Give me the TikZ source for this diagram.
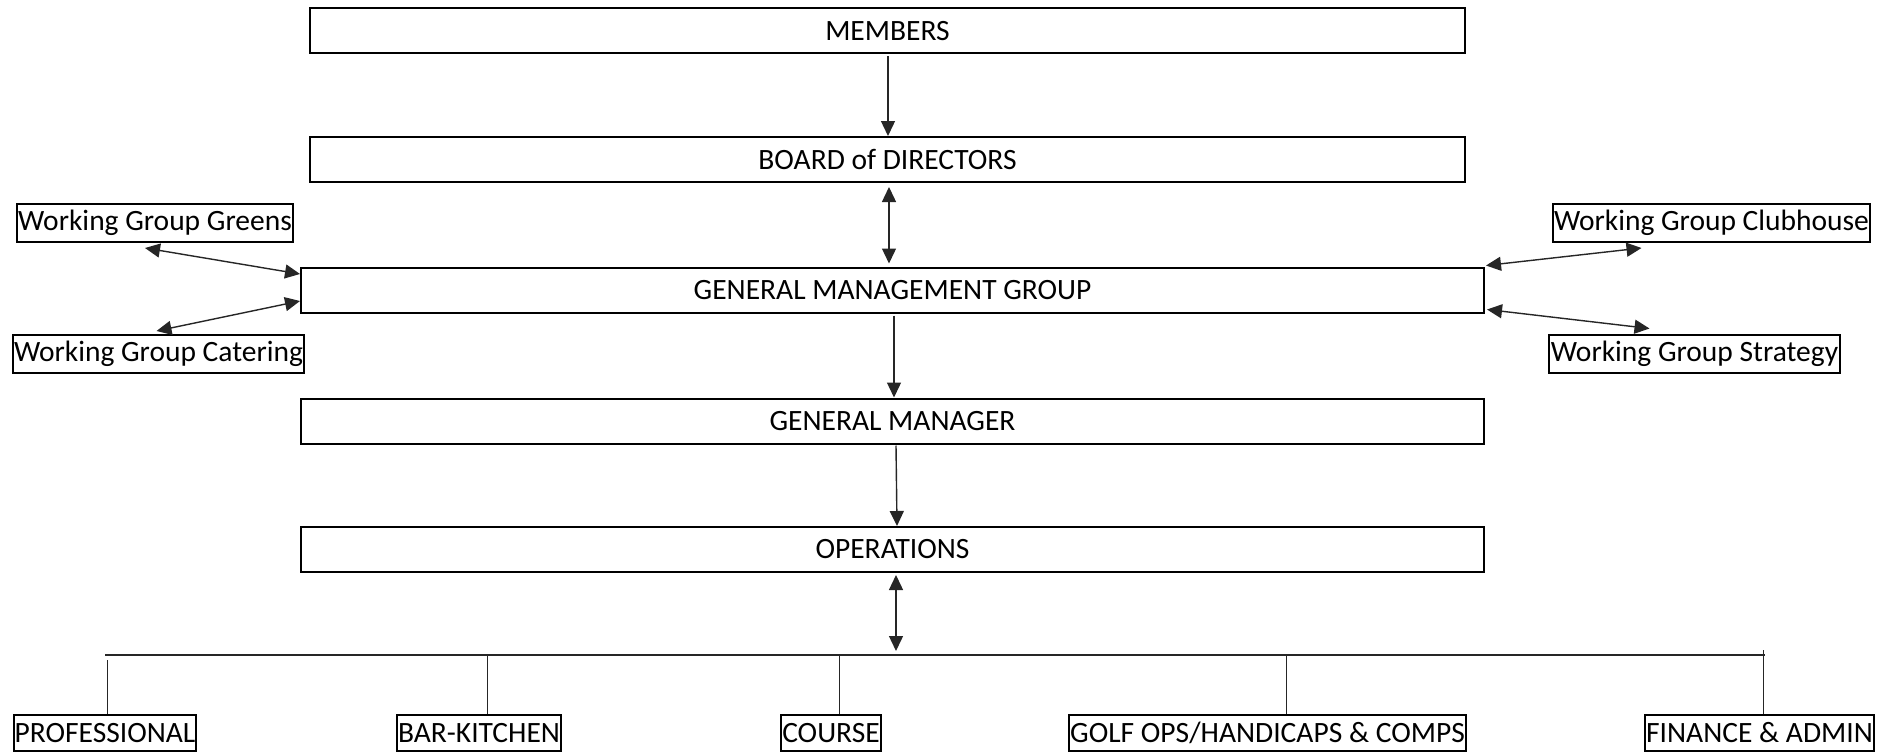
\documentclass[tikz,border=0pt]{standalone}
\usepackage{fontspec}
\setmainfont{Carlito}
\usetikzlibrary{arrows.meta}

\begin{document}
\begin{tikzpicture}
  [ x=1pt, y=-1pt,
    bigbox/.style={rectangle, draw=black, line width=2pt, inner sep=0pt, minimum height=45pt, font=\fontsize{29.5}{33}\selectfont},
    wgbox/.style={rectangle, draw=black, line width=2pt, inner sep=1pt, minimum height=38pt, font=\fontsize{29.5}{33}\selectfont},
    unitbox/.style={rectangle, draw=black, line width=2pt, inner sep=1pt, minimum height=36pt, font=\fontsize{29.5}{33}\selectfont},
    arr/.style={-{Triangle[length=15pt,width=14pt]}, line width=1.4pt, black!85},
    dblarr/.style={{Triangle[length=15pt,width=14pt]}-{Triangle[length=15pt,width=14pt]}, line width=1.4pt, black!85},
    bus/.style={-, line width=1.6pt, black!85},
    drop/.style={-, line width=1pt, black!85}
  ]
  \useasboundingbox (0,0) rectangle (1887,752);

  \node[bigbox, minimum width=1155pt] (members) at (887.5,31) {MEMBERS};
  \node[bigbox, minimum width=1155pt] (board) at (887.5,159.5) {BOARD of DIRECTORS};
  \node[bigbox, minimum width=1183pt] (gmg) at (892.5,290) {GENERAL MANAGEMENT GROUP};
  \node[bigbox, minimum width=1183pt] (gm) at (892.5,421) {GENERAL MANAGER};
  \node[bigbox, minimum width=1183pt] (ops) at (892.5,549.5) {OPERATIONS};

  \node[wgbox, minimum width=276pt] (greens) at (155,223) {Working Group Greens};
  \node[wgbox, minimum width=291pt] (catering) at (158.5,354) {Working Group Catering};
  \node[wgbox, minimum width=317pt] (clubhouse) at (1711.5,223) {Working Group Clubhouse};
  \node[wgbox, minimum width=291pt] (strategy) at (1694.5,353.5) {Working Group Strategy};

  \node[unitbox, minimum width=182pt] (prof) at (105,733) {PROFESSIONAL};
  \node[unitbox, minimum width=164pt] (barkitchen) at (479,733) {BAR-KITCHEN};
  \node[unitbox, minimum width=100pt] (course) at (831,733) {COURSE};
  \node[unitbox, minimum width=395pt] (golfops) at (1267.5,733) {GOLF OPS/HANDICAPS \& COMPS};
  \node[unitbox, minimum width=229pt] (finance) at (1759.5,733) {FINANCE \& ADMIN};

  \coordinate (busL) at (105,655);
  \coordinate (busR) at (1765,655);
  \coordinate (opsbus) at (896,651);
  \coordinate (dprof) at (107,660);
  \coordinate (dbar) at (487,655);
  \coordinate (dcourse) at (839,655);
  \coordinate (dgolf) at (1286,655);
  \coordinate (dfin) at (1763,650);

  \draw [arr] ([xshift=0.5pt,yshift=-2pt]members.south) -- ([xshift=0.5pt]board.north);
  \draw [dblarr] ([xshift=1.5pt,yshift=-4pt]board.south) -- ([xshift=-3.5pt,yshift=3pt]gmg.north);
  \draw [arr] ([xshift=1.5pt,yshift=-2pt]gmg.south) -- ([xshift=1.5pt]gm.north);
  \draw [arr] ([xshift=3.5pt,yshift=-1pt]gm.south) -- ([xshift=4.5pt]ops.north);
  \draw [dblarr] ([xshift=3.5pt,yshift=-2pt]ops.south) -- (opsbus);

  \draw [dblarr] ([xshift=-10pt,yshift=-5pt]greens.south) -- ([yshift=16pt]gmg.west);
  \draw [dblarr] ([xshift=-2pt,yshift=3pt]catering.north) -- ([yshift=-11pt]gmg.west);
  \draw [dblarr] ([xshift=1pt,yshift=1pt]gmg.north east) -- ([xshift=-70pt,yshift=-5pt]clubhouse.south);
  \draw [dblarr] ([xshift=2pt,yshift=4pt]gmg.south east) -- ([xshift=-45pt,yshift=5pt]strategy.north);

  \draw [bus] (busL) -- (busR);
  \draw [drop] (dprof) -- (dprof |- prof.north);
  \draw [drop] (dbar) -- (dbar |- barkitchen.north);
  \draw [drop] (dcourse) -- (dcourse |- course.north);
  \draw [drop] (dgolf) -- (dgolf |- golfops.north);
  \draw [drop] (dfin) -- (dfin |- finance.north);
\end{tikzpicture}
\end{document}
